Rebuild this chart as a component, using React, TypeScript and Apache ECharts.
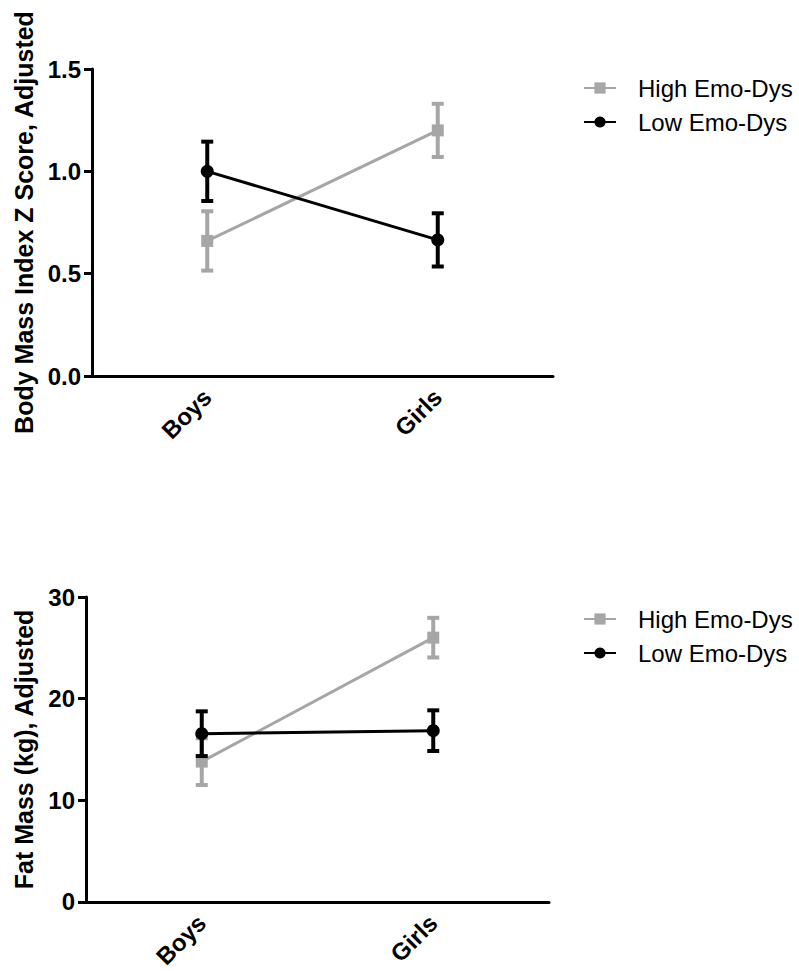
import React, { useEffect, useRef } from "react";
import * as echarts from "echarts";

const categories = ["Boys", "Girls"];
const seriesNames = ["High Emo-Dys", "Low Emo-Dys"];

// Top panel: BMI Z score
const bmiHigh = [0.66, 1.2];
const bmiHighErr = [0.145, 0.13];
const bmiLow = [1.0, 0.665];
const bmiLowErr = [0.145, 0.13];
const bmiTicks = { min: 0, max: 1.5, interval: 0.5 };

// Bottom panel: fat mass
const fatHigh = [13.8, 26.0];
const fatHighErr = [2.3, 1.95];
const fatLow = [16.55, 16.85];
const fatLowErr = [2.2, 2.0];
const fatTicks = { min: 0, max: 30, interval: 10 };

const GREY = "#a6a6a8";
const BLACK = "#000000";
const FONT = "Liberation Sans";

function errData(means: number[], errs: number[]) {
  return means.map((m, i) => [i, m - errs[i], m + errs[i]]);
}

function errSeries(gi: number, means: number[], errs: number[], color: string, z: number) {
  return {
    type: "custom",
    xAxisIndex: gi,
    yAxisIndex: gi,
    z,
    encode: { x: 0, y: [1, 2] },
    itemStyle: { color },
    data: errData(means, errs),
    renderItem: (params: any, api: any) => {
      const x = api.value(0);
      const lo = api.value(1);
      const hi = api.value(2);
      const p1 = api.coord([x, hi]);
      const p2 = api.coord([x, lo]);
      const w = 6;
      const st = { stroke: color, lineWidth: 4 };
      return {
        type: "group",
        children: [
          { type: "line", shape: { x1: p1[0], y1: p1[1], x2: p2[0], y2: p2[1] }, style: st },
          { type: "line", shape: { x1: p1[0] - w, y1: p1[1], x2: p1[0] + w, y2: p1[1] }, style: st },
          { type: "line", shape: { x1: p2[0] - w, y1: p2[1], x2: p2[0] + w, y2: p2[1] }, style: st },
        ],
      };
    },
  };
}

function lineSeries(gi: number, name: string, data: number[], color: string, symbol: string, z: number) {
  return {
    type: "line",
    name,
    xAxisIndex: gi,
    yAxisIndex: gi,
    z,
    data,
    symbol,
    symbolSize: symbol === "rect" ? 12 : 13,
    lineStyle: { color, width: 3 },
    itemStyle: { color },
  };
}

function xAxis(gi: number) {
  return {
    type: "category",
    gridIndex: gi,
    data: categories,
    boundaryGap: true,
    axisLine: { lineStyle: { color: BLACK, width: 3 } },
    axisTick: { alignWithLabel: true, length: 8, lineStyle: { color: BLACK, width: 3 } },
    axisLabel: {
      rotate: 45,
      margin: 17,
      color: BLACK,
      fontSize: 24,
      fontWeight: "bold",
      fontFamily: FONT,
    },
    splitLine: { show: false },
  };
}

function yAxis(gi: number, t: any, name: string, gap: number, fmt: (v: number) => string) {
  return {
    type: "value",
    gridIndex: gi,
    min: t.min,
    max: t.max,
    interval: t.interval,
    name,
    nameLocation: "middle",
    nameGap: gap,
    nameRotate: 90,
    nameTextStyle: { color: BLACK, fontSize: 25, fontWeight: "bold", fontFamily: FONT },
    axisLine: { show: true, lineStyle: { color: BLACK, width: 3 } },
    axisTick: { show: true, length: 8, lineStyle: { color: BLACK, width: 3 } },
    axisLabel: {
      margin: 11,
      color: BLACK,
      fontSize: 24,
      fontWeight: "bold",
      fontFamily: FONT,
      formatter: fmt,
    },
    splitLine: { show: false },
  };
}

function legend(top: number) {
  return {
    orient: "vertical",
    left: 578,
    top,
    itemWidth: 32,
    itemHeight: 14,
    itemGap: 10,
    data: seriesNames,
    textStyle: { color: BLACK, fontSize: 24, fontFamily: FONT, padding: [0, 0, 0, 17] },
  };
}

export default function App() {
  const ref = useRef<HTMLDivElement>(null);
  useEffect(() => {
    if (!ref.current) return;
    const chart = echarts.init(ref.current, null, { renderer: "svg" });
    chart.setOption({
      animation: false,
      backgroundColor: "#ffffff",
      legend: [legend(71), legend(602)],
      grid: [
        { left: 92, top: 69, right: 246, height: 307 },
        { left: 86, top: 597, right: 250, height: 308 },
      ],
      xAxis: [xAxis(0), xAxis(1)],
      yAxis: [
        yAxis(0, bmiTicks, "Body Mass Index Z Score, Adjusted", 55, (v: number) => v.toFixed(1)),
        yAxis(1, fatTicks, "Fat Mass (kg), Adjusted", 50, (v: number) => String(v)),
      ],
      series: [
        errSeries(0, bmiHigh, bmiHighErr, GREY, 2),
        lineSeries(0, seriesNames[0], bmiHigh, GREY, "rect", 3),
        errSeries(0, bmiLow, bmiLowErr, BLACK, 4),
        lineSeries(0, seriesNames[1], bmiLow, BLACK, "circle", 5),
        errSeries(1, fatHigh, fatHighErr, GREY, 2),
        lineSeries(1, seriesNames[0], fatHigh, GREY, "rect", 3),
        errSeries(1, fatLow, fatLowErr, BLACK, 4),
        lineSeries(1, seriesNames[1], fatLow, BLACK, "circle", 5),
      ],
    });
    return () => chart.dispose();
  }, []);
  return (
    <div
      ref={ref}
      style={{ position: "absolute", left: 0, top: 0, width: 799, height: 971, background: "#fff" }}
    />
  );
}
